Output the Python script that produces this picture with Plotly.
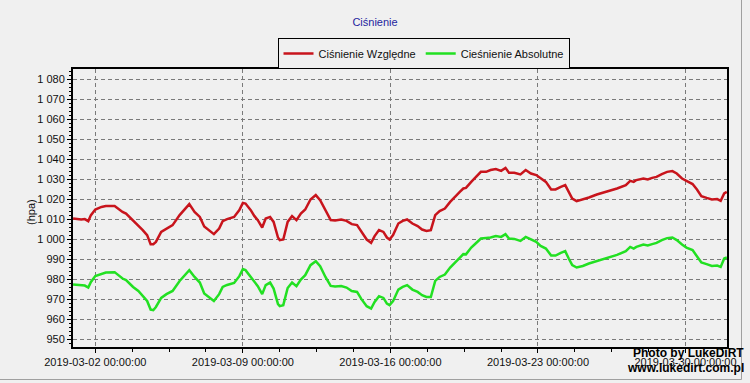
import plotly.graph_objects as go

times = [
    "2019-02-28 22:40", "2019-03-01 08:00", "2019-03-01 12:00", "2019-03-01 16:00", "2019-03-01 19:00",
    "2019-03-02 00:00", "2019-03-02 07:00", "2019-03-02 12:00", "2019-03-02 22:00", "2019-03-03 02:00",
    "2019-03-03 07:00", "2019-03-03 11:00", "2019-03-03 19:00", "2019-03-04 01:00", "2019-03-04 06:00",
    "2019-03-04 11:00", "2019-03-04 15:00", "2019-03-04 18:00", "2019-03-04 21:00", "2019-03-05 03:00",
    "2019-03-05 09:00", "2019-03-05 16:00", "2019-03-06 00:00", "2019-03-06 08:00", "2019-03-06 11:00",
    "2019-03-06 17:00", "2019-03-06 23:00", "2019-03-07 04:00", "2019-03-07 09:00", "2019-03-07 15:00",
    "2019-03-07 21:00", "2019-03-08 01:00", "2019-03-08 06:00", "2019-03-08 14:00", "2019-03-08 20:00",
    "2019-03-09 00:00", "2019-03-09 03:00", "2019-03-09 09:00", "2019-03-09 13:00", "2019-03-09 17:00",
    "2019-03-09 22:00", "2019-03-10 02:00", "2019-03-10 07:00", "2019-03-10 11:00", "2019-03-10 16:00",
    "2019-03-10 18:00", "2019-03-10 22:00", "2019-03-11 03:00", "2019-03-11 08:00", "2019-03-11 13:00",
    "2019-03-11 18:00", "2019-03-11 23:00", "2019-03-12 05:00", "2019-03-12 11:00", "2019-03-12 16:00",
    "2019-03-12 22:00", "2019-03-13 04:00", "2019-03-13 09:00", "2019-03-13 16:00", "2019-03-13 22:00",
    "2019-03-14 04:00", "2019-03-14 10:00", "2019-03-14 15:00", "2019-03-14 21:00", "2019-03-15 02:00",
    "2019-03-15 06:00", "2019-03-15 11:00", "2019-03-15 16:00", "2019-03-15 20:00", "2019-03-15 23:00",
    "2019-03-16 03:00", "2019-03-16 09:00", "2019-03-16 14:00", "2019-03-16 19:00", "2019-03-17 01:00",
    "2019-03-17 07:00", "2019-03-17 12:00", "2019-03-17 17:00", "2019-03-17 22:00", "2019-03-18 03:00",
    "2019-03-18 08:00", "2019-03-18 14:00", "2019-03-18 20:00", "2019-03-19 01:00", "2019-03-19 07:00",
    "2019-03-19 11:00", "2019-03-19 14:00", "2019-03-19 20:00", "2019-03-20 01:00", "2019-03-20 07:00",
    "2019-03-20 13:00", "2019-03-20 18:00", "2019-03-21 00:00", "2019-03-21 06:00", "2019-03-21 11:00",
    "2019-03-21 15:00", "2019-03-21 21:00", "2019-03-22 04:00", "2019-03-22 10:00", "2019-03-22 16:00",
    "2019-03-22 22:00", "2019-03-23 03:00", "2019-03-23 09:00", "2019-03-23 15:00", "2019-03-23 20:00",
    "2019-03-24 02:00", "2019-03-24 07:00", "2019-03-24 11:00", "2019-03-24 15:00", "2019-03-24 20:00",
    "2019-03-25 03:00", "2019-03-25 10:00", "2019-03-25 19:00", "2019-03-26 06:00", "2019-03-26 18:00",
    "2019-03-27 04:00", "2019-03-27 09:00", "2019-03-27 13:00", "2019-03-27 16:00", "2019-03-28 00:00",
    "2019-03-28 05:00", "2019-03-28 10:00", "2019-03-28 15:00", "2019-03-28 21:00", "2019-03-29 03:00",
    "2019-03-29 09:00", "2019-03-29 14:00", "2019-03-29 20:00", "2019-03-30 01:00", "2019-03-30 08:00",
    "2019-03-30 13:00", "2019-03-30 18:00", "2019-03-31 00:00", "2019-03-31 06:00", "2019-03-31 12:00",
    "2019-03-31 16:00", "2019-03-31 20:00", "2019-03-31 23:00",
]

cisnienie_wzgledne = [
    1010.5, 1010.0, 1010.2, 1009.2, 1012.2,
    1015.0, 1016.3, 1016.7, 1016.8, 1015.5,
    1013.8, 1013.0, 1009.7, 1007.2, 1004.7,
    1002.2, 997.7, 997.7, 998.8, 1003.8,
    1005.5, 1007.2, 1012.2, 1016.3, 1017.7,
    1013.8, 1011.3, 1006.5, 1004.7, 1002.7,
    1005.5, 1009.2, 1010.2, 1011.3, 1014.7,
    1018.3, 1018.0, 1014.7, 1011.8, 1009.7,
    1006.0, 1010.5, 1011.3, 1008.8, 1001.0,
    999.7, 1000.0, 1008.8, 1011.7, 1009.7,
    1013.0, 1015.0, 1020.0, 1022.2, 1019.7,
    1014.7, 1009.7, 1009.5, 1010.0, 1009.3,
    1007.7, 1007.2, 1003.8, 1000.0, 998.3,
    1001.7, 1004.7, 1003.8, 1001.0, 1000.0,
    1002.2, 1008.0, 1009.3, 1010.0, 1008.0,
    1006.7, 1005.0, 1004.3, 1004.7, 1012.2,
    1014.2, 1015.5, 1018.8, 1021.3, 1023.8,
    1025.5, 1025.8, 1028.8, 1031.3, 1033.8,
    1033.8, 1034.7, 1035.2, 1034.3, 1035.8,
    1033.3, 1033.3, 1032.5, 1034.7, 1033.0,
    1032.2, 1030.5, 1028.8, 1025.0, 1025.0,
    1026.3, 1027.2, 1023.8, 1020.5, 1019.2,
    1020.0, 1021.0, 1022.5, 1023.8, 1025.5,
    1027.2, 1029.3, 1028.8, 1029.7, 1030.5,
    1030.0, 1030.8, 1031.3, 1032.7, 1033.8,
    1034.2, 1033.0, 1030.5, 1029.2, 1027.7,
    1025.0, 1021.7, 1020.8, 1020.0, 1020.2,
    1019.3, 1023.0, 1023.8,
]

cisnienie_absolutne = [
    977.5, 977.2, 977.0, 976.0, 978.8,
    981.8, 983.0, 983.5, 983.7, 982.2,
    980.5, 979.7, 976.3, 974.3, 971.8,
    969.3, 965.0, 964.7, 966.3, 970.8,
    972.7, 974.3, 979.3, 983.5, 984.7,
    981.3, 978.5, 973.0, 971.3, 969.3,
    972.7, 976.3, 977.3, 978.3, 981.7,
    985.2, 984.7, 981.3, 978.5, 976.7,
    972.7, 977.2, 978.5, 975.5, 967.7,
    966.7, 967.2, 975.8, 978.5, 976.7,
    980.0, 982.2, 987.2, 989.2, 986.7,
    981.3, 976.8, 976.5, 976.8, 976.0,
    974.3, 973.8, 970.2, 966.7, 965.5,
    968.8, 971.7, 970.8, 968.0, 967.2,
    969.2, 975.0, 976.3, 977.2, 975.0,
    973.8, 972.2, 971.3, 971.3, 979.3,
    981.3, 982.5, 986.0, 988.3, 991.0,
    992.7, 992.6, 996.0, 998.0, 1000.5,
    1000.8, 1001.0, 1001.7, 1001.3, 1002.7,
    1000.5, 1000.3, 999.3, 1001.3, 1000.0,
    998.8, 996.8, 995.5, 992.0, 992.0,
    993.3, 994.2, 990.5, 987.2, 986.0,
    986.8, 988.0, 989.3, 990.8, 992.3,
    994.2, 996.3, 995.5, 996.3, 997.5,
    997.0, 997.7, 998.3, 999.7, 1000.7,
    1001.0, 999.7, 997.5, 996.0, 994.7,
    991.7, 988.5, 987.7, 986.8, 987.0,
    986.3, 990.5, 991.0,
]

y_tick_values = [950, 960, 970, 980, 990, 1000, 1010, 1020, 1030, 1040, 1050, 1060, 1070, 1080]
y_tick_labels = ["950", "960", "970", "980", "990", "1 000", "1 010", "1 020", "1 030",
                 "1 040", "1 050", "1 060", "1 070", "1 080"]

FONT = "Liberation Sans, Arial, sans-serif"
BG = "#f0f0f0"

fig = go.Figure()
fig.add_trace(go.Scatter(x=times, y=cisnienie_wzgledne, mode="lines",
                         name="Ciśnienie Względne", line=dict(color="#c8141c", width=2.5)))
fig.add_trace(go.Scatter(x=times, y=cisnienie_absolutne, mode="lines",
                         name="Cieśnienie Absolutne", line=dict(color="#22e022", width=2.5)))

# plot area pixel geometry: x 73..727, y 69..347
L, R, T, B = 73, 23, 69, 36
W, H = 750, 383
pw, ph = W - L - R, H - T - B

def px(x):
    return (x - L) / pw

def py(y):
    return (H - B - y) / ph

fig.update_layout(
    width=W, height=H,
    margin=dict(l=L, r=R, t=T, b=B, pad=0),
    paper_bgcolor=BG, plot_bgcolor=BG,
    font=dict(family=FONT, size=11, color="#111111"),
    title=dict(text="Ciśnienie", x=0.5, xanchor="center", y=1 - 22 / H, yanchor="middle",
               font=dict(family=FONT, size=11, color="#1f1f9f")),
    showlegend=True,
    legend=dict(orientation="h", x=px(423.5), xanchor="center", y=py(38), yanchor="top",
                bgcolor=BG, bordercolor="#000000", borderwidth=1,
                font=dict(family=FONT, size=11, color="#111111"),
                itemwidth=30, tracegroupgap=0),
    xaxis=dict(
        type="date",
        range=["2019-02-28 22:36", "2019-03-31 23:12"],
        tick0="2019-03-02", dtick=7 * 86400000,
        tickformat="%Y-%m-%d %H:%M:%S",
        showgrid=True, gridcolor="#7a7a7a", griddash="4px,3px", gridwidth=1,
        showline=True, linecolor="#000000", linewidth=2, mirror=True,
        ticks="outside", ticklen=4, tickcolor="#000000",
        ticklabelstandoff=0,
        minor=dict(tick0="2019-03-02", dtick=151200000, ticks="outside", ticklen=3,
                   tickcolor="#000000", showgrid=False),
        zeroline=False,
        tickfont=dict(family=FONT, size=11, color="#111111"),
    ),
    yaxis=dict(
        range=[946.3, 1085.2],
        tickvals=y_tick_values, ticktext=y_tick_labels,
        showgrid=True, gridcolor="#7a7a7a", griddash="4px,3px", gridwidth=1,
        showline=True, linecolor="#000000", linewidth=2, mirror=True,
        ticks="outside", ticklen=4, tickcolor="#000000",
        minor=dict(dtick=2, ticks="outside", ticklen=2, tickcolor="#000000", showgrid=False),
        zeroline=False,
        tickfont=dict(family=FONT, size=11, color="#111111"),
    ),
)

fig.add_annotation(text="(hpa)", textangle=-90, xref="paper", yref="paper",
                   x=px(31), y=py(212), xanchor="center", yanchor="middle", showarrow=False,
                   font=dict(family=FONT, size=11, color="#111111"))
fig.add_annotation(text="<b>Photo by LukeDiRT</b>", xref="paper", yref="paper",
                   x=px(746), y=py(353), xanchor="right", yanchor="middle", showarrow=False,
                   font=dict(family=FONT, size=12, color="#000000"))
fig.add_annotation(text="<b>www.lukedirt.com.pl</b>", xref="paper", yref="paper",
                   x=px(746), y=py(368), xanchor="right", yanchor="middle", showarrow=False,
                   font=dict(family=FONT, size=12, color="#000000"))

# window frame (right and bottom edges)
fig.add_shape(type="rect", xref="paper", yref="paper",
              x0=px(-3), x1=px(741.5), y0=py(379.5), y1=py(-3),
              line=dict(color="#a0a0a0", width=1), fillcolor="rgba(0,0,0,0)", layer="below")

fig.write_html(
    "out.html",
    config={"displayModeBar": False},
    post_script="document.body.style.margin='0';document.body.style.padding='0';"
                "document.body.style.overflow='hidden';"
                "document.body.style.background='" + BG + "';",
)
